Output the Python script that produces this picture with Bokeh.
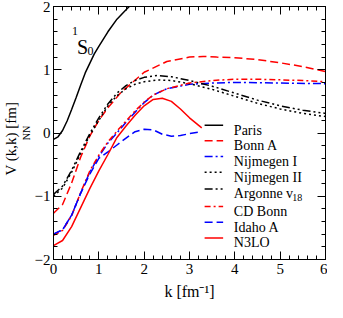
import math
from bokeh.plotting import figure
from bokeh.models import Label, LinearAxis, Range1d, SingleIntervalTicker, CustomJSTickFormatter, Title
from bokeh.embed import file_html
from bokeh.resources import INLINE

# ---------------- data ----------------
k_paris = [0.0, 0.1, 0.2, 0.3, 0.4, 0.5, 0.6, 0.7, 0.8, 0.9, 1.0, 1.2, 1.4, 1.6, 1.7, 1.8]
v_paris = [-0.10, -0.06, 0.04, 0.19, 0.37, 0.56, 0.76, 0.95, 1.10, 1.25, 1.37, 1.60, 1.80, 1.95, 2.02, 2.10]

k_bonna = [0.0, 0.2, 0.4, 0.6, 0.8, 1.0, 1.2, 1.5, 2.0, 2.5, 3.0, 3.3, 3.6, 4.0, 4.5, 5.0, 5.5, 6.0]
v_bonna = [-1.27, -1.13, -0.79, -0.38, -0.05, 0.20, 0.40, 0.65, 0.96, 1.13, 1.20, 1.21, 1.20, 1.19, 1.16, 1.11, 1.05, 0.97]

k_nijm1 = [0.0, 0.2, 0.4, 0.6, 0.8, 1.0, 1.2, 1.4, 1.6, 1.8, 2.0, 2.2, 2.5, 3.0, 3.5, 4.0, 5.0, 6.0]
v_nijm1 = [-1.60, -1.53, -1.30, -0.95, -0.62, -0.37, -0.16, 0.00, 0.17, 0.33, 0.48, 0.60, 0.70, 0.77, 0.79, 0.80, 0.79, 0.78]

k_nijm2 = [0.0, 0.2, 0.4, 0.6, 0.8, 1.0, 1.2, 1.4, 1.6, 1.8, 2.0, 2.3, 2.6, 3.0, 3.5, 4.0, 4.5, 5.0, 5.5, 6.0]
v_nijm2 = [-1.00, -0.87, -0.62, -0.32, -0.04, 0.20, 0.43, 0.59, 0.70, 0.77, 0.81, 0.84, 0.83, 0.78, 0.69, 0.58, 0.47, 0.38, 0.31, 0.26]

k_av18 = [0.0, 0.2, 0.4, 0.6, 0.8, 1.0, 1.2, 1.4, 1.6, 1.8, 2.0, 2.3, 2.6, 3.0, 3.5, 4.0, 4.5, 5.0, 5.5, 6.0]
v_av18 = [-0.97, -0.84, -0.59, -0.29, -0.01, 0.24, 0.46, 0.63, 0.75, 0.83, 0.88, 0.91, 0.89, 0.83, 0.74, 0.63, 0.52, 0.43, 0.36, 0.31]

k_cdbonn = [0.0, 0.2, 0.4, 0.6, 0.8, 1.0, 1.2, 1.4, 1.6, 1.8, 2.0, 2.2, 2.5, 3.0, 3.5, 4.0, 4.5, 5.0, 5.5, 6.0]
v_cdbonn = [-1.62, -1.54, -1.31, -0.94, -0.60, -0.35, -0.14, 0.03, 0.19, 0.35, 0.49, 0.60, 0.70, 0.79, 0.83, 0.85, 0.85, 0.84, 0.83, 0.81]

k_idaho = [0.0, 0.2, 0.4, 0.6, 0.8, 1.0, 1.2, 1.4, 1.6, 1.8, 2.0, 2.2, 2.4, 2.6, 2.8, 3.0, 3.25]
v_idaho = [-1.60, -1.53, -1.30, -0.95, -0.65, -0.40, -0.30, -0.19, -0.08, 0.02, 0.06, 0.05, -0.02, -0.05, -0.04, -0.01, 0.02]

k_n3lo = [0.0, 0.2, 0.4, 0.6, 0.8, 1.0, 1.2, 1.4, 1.6, 1.8, 2.0, 2.2, 2.4, 2.6, 2.8, 3.0, 3.27]
v_n3lo = [-1.78, -1.70, -1.48, -1.18, -0.88, -0.60, -0.34, -0.07, 0.11, 0.28, 0.43, 0.53, 0.55, 0.50, 0.38, 0.24, 0.08]

series = [
    ("Paris", k_paris, v_paris, "black", None),
    ("Bonn A", k_bonna, v_bonna, "red", "8 4"),
    ("Nijmegen I", k_nijm1, v_nijm1, "blue", "8 3 2 3"),
    ("Nijmegen II", k_nijm2, v_nijm2, "black", "2 3"),
    ("Argonne v", k_av18, v_av18, "black", "8 3 2 3 2 3"),
    ("CD Bonn", k_cdbonn, v_cdbonn, "red", "6 3 2 3"),
    ("Idaho A", k_idaho, v_idaho, "blue", "8 4"),
    ("N3LO", k_n3lo, v_n3lo, "red", None),
]

x_ticks_interval = 1
y_ticks_interval = 1

# ---------------- layout ----------------
FONT = "Liberation Serif"
W, H = 327, 302

p = figure(width=W, height=H, x_range=Range1d(0, 6), y_range=Range1d(-2, 2),
           output_backend="svg", toolbar_location=None, title=None,
           min_border_left=10, min_border_right=2,
           min_border_top=6, min_border_bottom=40)
p.xgrid.visible = False
p.ygrid.visible = False
p.outline_line_color = "black"
p.outline_line_width = 1
p.background_fill_color = "white"
p.border_fill_color = "white"

def style_axis(ax, labels=True):
    ax.axis_line_color = "black"
    ax.axis_line_width = 1
    ax.major_tick_in = 8
    ax.major_tick_out = 0
    ax.minor_tick_in = 4
    ax.minor_tick_out = 0
    ax.major_tick_line_color = "black"
    ax.minor_tick_line_color = "black"
    if labels:
        ax.major_label_text_font = FONT
        ax.major_label_text_font_size = "15px"
        ax.major_label_text_color = "black"
    else:
        ax.formatter = CustomJSTickFormatter(code="return ''")
        ax.major_label_standoff = 0

p.xaxis.ticker = SingleIntervalTicker(interval=x_ticks_interval, num_minor_ticks=5)
p.yaxis.ticker = SingleIntervalTicker(interval=y_ticks_interval, num_minor_ticks=5)
style_axis(p.xaxis[0]); style_axis(p.yaxis[0])
p.xaxis.major_label_standoff = 4
p.yaxis.major_label_standoff = 3

# x-axis title
p.xaxis.axis_label = "k [fm\u207b\u00b9]"
p.xaxis.axis_label_text_font = FONT
p.xaxis.axis_label_text_font_size = "16px"
p.xaxis.axis_label_text_font_style = "normal"
p.xaxis.axis_label_text_color = "black"
p.xaxis.axis_label_standoff = 6

top = LinearAxis(ticker=SingleIntervalTicker(interval=x_ticks_interval, num_minor_ticks=5))
right = LinearAxis(ticker=SingleIntervalTicker(interval=y_ticks_interval, num_minor_ticks=5))
style_axis(top, labels=False); style_axis(right, labels=False)
p.add_layout(top, "above")
p.add_layout(right, "right")

# y-axis title: V_NN(k,k) [fm]  (subscript panel nearer the frame)
p.add_layout(Title(text="NN", text_font=FONT, text_font_size="10px",
                   text_font_style="normal", text_color="black",
                   align="center", offset=-24, standoff=0), "left")
p.add_layout(Title(text="V    (k,k) [fm]", text_font=FONT, text_font_size="15px",
                   text_font_style="normal", text_color="black",
                   align="center", offset=1, standoff=0), "left")

for name, kk, vv, col, dash in series:
    kw = dict(line_color=col, line_width=1.5)
    if dash:
        kw["line_dash"] = dash
    p.line(kk, vv, **kw)

# reference-picture pixel -> data (inside the frame)
def kref(px):
    return (px - 58) / 46.5

def vref(py):
    return (135 - py) / 64.5

def lab(x, y, text, size):
    p.add_layout(Label(x=x, y=y, text=text, text_font=FONT, text_font_size=size,
                       text_color="black", text_align="left",
                       text_baseline="alphabetic"))

# 1S0 label
lab(kref(77), vref(31), "1", "12px")
lab(kref(82), vref(47), "S", "20px")
lab(kref(93), vref(51), "0", "12px")

# legend
baselines = [132, 148, 164, 180, 197, 215, 231, 247]
for (name, kk, vv, col, dash), b in zip(series, baselines):
    kw = dict(line_color=col, line_width=1.5)
    if dash:
        kw["line_dash"] = dash
    p.line([kref(213), kref(232)], [vref(b - 5), vref(b - 5)], **kw)
    lab(kref(243), vref(b), name, "14px")
lab(kref(303), vref(201), "18", "10px")

open("out.html", "w").write(file_html(p, INLINE))
